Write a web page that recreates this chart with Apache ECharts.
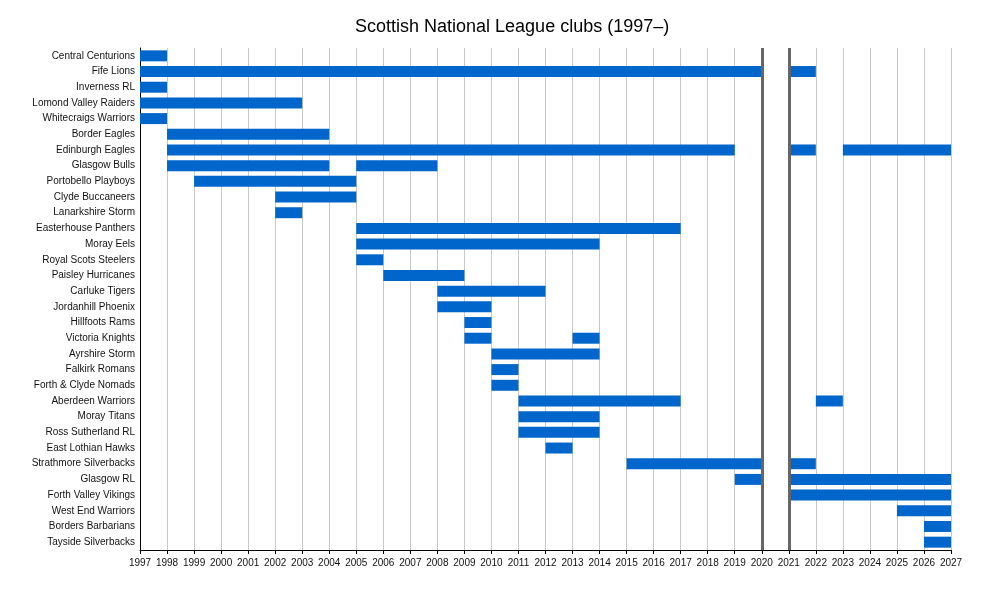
<!DOCTYPE html>
<html>
<head>
<meta charset="utf-8">
<script src="https://cdn.jsdelivr.net/npm/echarts@6/dist/echarts.min.js"></script>
<style>
  html, body { margin: 0; padding: 0; background: #fff; }
  #chart { width: 1000px; height: 600px; }
</style>
</head>
<body>
<div id="chart"></div>
<script>
// clubs, top to bottom
const clubs = [
  'Central Centurions', 'Fife Lions', 'Inverness RL', 'Lomond Valley Raiders',
  'Whitecraigs Warriors', 'Border Eagles', 'Edinburgh Eagles', 'Glasgow Bulls',
  'Portobello Playboys', 'Clyde Buccaneers', 'Lanarkshire Storm', 'Easterhouse Panthers',
  'Moray Eels', 'Royal Scots Steelers', 'Paisley Hurricanes', 'Carluke Tigers',
  'Jordanhill Phoenix', 'Hillfoots Rams', 'Victoria Knights', 'Ayrshire Storm',
  'Falkirk Romans', 'Forth & Clyde Nomads', 'Aberdeen Warriors', 'Moray Titans',
  'Ross Sutherland RL', 'East Lothian Hawks', 'Strathmore Silverbacks', 'Glasgow RL',
  'Forth Valley Vikings', 'West End Warriors', 'Borders Barbarians', 'Tayside Silverbacks'
]

// spells in the league for each club: [from, to]
const spells = [
  [[1997, 1998]],
  [[1997, 2020], [2021, 2022]],
  [[1997, 1998]],
  [[1997, 2003]],
  [[1997, 1998]],
  [[1998, 2004]],
  [[1998, 2019], [2021, 2022], [2023, 2027]],
  [[1998, 2004], [2005, 2008]],
  [[1999, 2005]],
  [[2002, 2005]],
  [[2002, 2003]],
  [[2005, 2017]],
  [[2005, 2014]],
  [[2005, 2006]],
  [[2006, 2009]],
  [[2008, 2012]],
  [[2008, 2010]],
  [[2009, 2010]],
  [[2009, 2010], [2013, 2014]],
  [[2010, 2014]],
  [[2010, 2011]],
  [[2010, 2011]],
  [[2011, 2017], [2022, 2023]],
  [[2011, 2014]],
  [[2011, 2014]],
  [[2012, 2013]],
  [[2015, 2020], [2021, 2022]],
  [[2019, 2020], [2021, 2027]],
  [[2021, 2027]],
  [[2025, 2027]],
  [[2026, 2027]],
  [[2026, 2027]]
]

// seasons not played (covid)
const breakLines = [2020, 2021]

const yearMin = 1997
const yearMax = 2027

const font = '"Liberation Sans", Arial, Helvetica, sans-serif'

// flatten into [row, from, to]
const bars = []
spells.forEach((list, i) => {
  list.forEach(s => bars.push([i, s[0], s[1]]))
})

const renderBar = (params, api) => {
  const row = api.value(0)
  const a = api.coord([api.value(1), row])
  const b = api.coord([api.value(2), row])
  const h = api.size([0, 1])[1] * 0.7
  return {
    type: 'rect',
    shape: { x: a[0], y: a[1] - h / 2, width: b[0] - a[0], height: h },
    style: api.style()
  }
}

const myChart = echarts.init(document.getElementById('chart'))
myChart.setOption({
  animation: false,
  title: {
    text: 'Scottish National League clubs (1997–)',
    left: 350,
    top: 13,
    textStyle: { fontFamily: font, fontSize: 18, fontWeight: 'normal', color: '#000' }
  },
  grid: { left: 140, right: 49, top: 48, bottom: 50 },
  xAxis: {
    type: 'value',
    min: yearMin,
    max: yearMax,
    interval: 1,
    axisLine: { show: true, lineStyle: { color: '#000', width: 1 } },
    axisTick: { show: true, length: 4, lineStyle: { color: '#000' } },
    axisLabel: {
      fontFamily: font, fontSize: 10, color: '#111', margin: 8,
      formatter: v => String(v)
    },
    splitLine: { show: true, lineStyle: { color: '#c8c8c8', width: 1 } }
  },
  yAxis: {
    type: 'category',
    data: clubs,
    inverse: true,
    axisLine: { show: true, lineStyle: { color: '#000', width: 1 } },
    axisTick: { show: false },
    axisLabel: { fontFamily: font, fontSize: 10, color: '#111', margin: 5 },
    splitLine: { show: false }
  },
  series: [
    {
      type: 'custom',
      renderItem: renderBar,
      encode: { x: [1, 2], y: 0 },
      itemStyle: { color: '#0066cc' },
      data: bars,
      markLine: {
        silent: true,
        symbol: 'none',
        label: { show: false },
        lineStyle: { color: '#666', width: 3, type: 'solid' },
        data: breakLines.map(y => ({ xAxis: y }))
      }
    }
  ]
})
</script>
</body>
</html>
